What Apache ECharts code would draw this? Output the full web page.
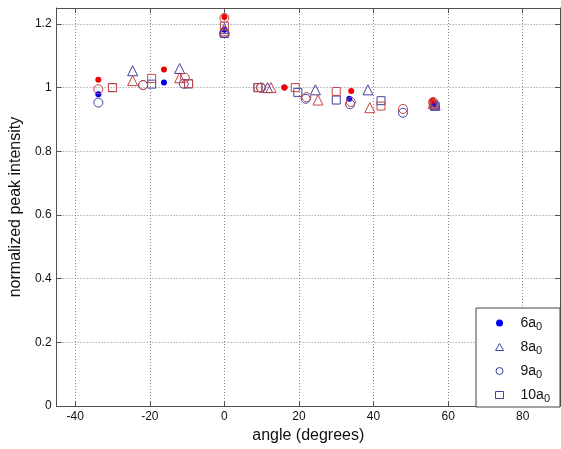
<!DOCTYPE html>
<html><head><meta charset="utf-8">
<script src="https://cdn.jsdelivr.net/npm/echarts@6/dist/echarts.min.js"></script>
<style>html,body{margin:0;padding:0;background:#fff}#c{width:561px;height:449px}</style>
</head><body><div id="c"></div>
<script>
// data: [angle, normalized peak intensity]
const blue6 = [[-33.8,0.979],[-16.2,1.016],[0,1.182],[16.1,1.0],[33.5,0.965],[56.3,0.946]];
const red6  = [[-33.8,1.025],[-16.2,1.057],[0,1.222],[16.1,1.0],[34.0,0.989],[55.9,0.959]];
const blue8 = [[-24.6,1.053],[-12.0,1.060],[0,1.185],[11.6,1.0],[24.4,0.993],[38.5,0.993],[56.5,0.945]];
const red8  = [[-24.6,1.022],[-12.0,1.031],[0,1.178],[12.5,1.0],[25.1,0.961],[39.0,0.937],[56.0,0.950]];
const blue9 = [[-33.8,0.953],[-21.8,1.008],[-10.9,1.012],[0,1.172],[9.8,1.0],[21.8,0.965],[33.7,0.948],[47.9,0.921],[56.5,0.943]];
const red9  = [[-33.8,0.995],[-21.8,1.008],[-10.6,1.031],[0,1.219],[9.8,1.0],[22.0,0.970],[33.9,0.955],[47.9,0.933],[56.0,0.955]];
const blue10 = [[-30.0,1.0],[-19.5,1.011],[-9.6,1.012],[0,1.170],[9.0,1.0],[19.7,0.985],[30.0,0.961],[42.0,0.959],[56.5,0.942]];
const red10  = [[-30.0,1.0],[-19.5,1.029],[-9.6,1.012],[0,1.193],[9.0,1.0],[19.0,1.0],[30.0,0.988],[42.0,0.942],[56.0,0.948]];
const legendNames = ['6a0','8a0','9a0','10a0'];
const xTicks = [-40,-20,0,20,40,60,80];

const BLUE='#0000f0', RED='#f00000', OBLUE='#4040a8', ORED='#c44444';
function openS(name, data, sym, size, col){
  return {type:'scatter', name, data, symbol:sym, symbolSize:size,
    itemStyle:{color:'rgba(255,255,255,0)', borderColor:col, borderWidth:1, opacity:1}};
}
function fillS(name, data, col){
  return {type:'scatter', name, data, symbol:'circle', symbolSize:6, itemStyle:{color:col, opacity:1}};
}
const font='"Liberation Sans", Arial, sans-serif';
const AX='#505050';
const dotted={type:[1,2], color:'#8a8a8a', width:1};
const chart = echarts.init(document.getElementById('c'));
chart.setOption({
  animation:false,
  backgroundColor:'#fff',
  textStyle:{fontFamily:font},
  grid:{left:53, right:1, top:8, bottom:39},
  xAxis:[{type:'value', min:-45, max:90,
    axisLine:{onZero:false, lineStyle:{color:AX}},
    axisTick:{inside:true, length:5, lineStyle:{color:AX}, customValues:xTicks},
    axisLabel:{color:'#111', fontSize:12, margin:5, fontFamily:font, customValues:xTicks},
    splitLine:{show:true, lineStyle:dotted, customValues:xTicks},
    name:'angle (degrees)', nameLocation:'middle', nameGap:19,
    nameTextStyle:{fontSize:16, color:'#111', fontFamily:font}},
   {type:'value', position:'top', min:-45, max:90,
    axisLine:{onZero:false, lineStyle:{color:AX}},
    axisTick:{inside:true, length:5, lineStyle:{color:AX}, customValues:xTicks},
    axisLabel:{show:false}, splitLine:{show:false}}],
  yAxis:[{type:'value', min:0, max:1.25, interval:0.2,
    axisLine:{onZero:false, lineStyle:{color:AX}},
    axisTick:{inside:true, length:5, lineStyle:{color:AX}},
    axisLabel:{color:'#111', fontSize:12, margin:5, fontFamily:font, showMaxLabel:false,
      formatter:v=>(Math.round(v*10)/10).toString()},
    splitLine:{show:true, lineStyle:dotted},
    name:'normalized peak intensity', nameLocation:'middle', nameGap:30,
    nameTextStyle:{fontSize:16, color:'#111', fontFamily:font}},
   {type:'value', position:'right', min:0, max:1.25, interval:0.2,
    axisLine:{onZero:false, lineStyle:{color:AX}},
    axisTick:{inside:true, length:5, lineStyle:{color:AX}},
    axisLabel:{show:false}, splitLine:{show:false}}],
  legend:{data:legendNames, orient:'vertical', right:1, bottom:42,
    backgroundColor:'#fff', borderColor:'#444', borderWidth:1,
    padding:[4,10,3,19], itemGap:4, itemWidth:8, itemHeight:7,
    itemStyle:{borderWidth:1},
    textStyle:{fontSize:14, color:'#111', fontFamily:font, padding:[0,0,0,12], lineHeight:18,
      rich:{s:{fontSize:11, verticalAlign:'bottom', padding:[9,0,0,0], fontFamily:font, color:'#111', lineHeight:18}}},
    formatter:n=>n.replace(/a0$/, 'a{s|0}')},
  series:[
    fillS('6a0', blue6, BLUE),
    openS('8a0', blue8, 'triangle', 10, OBLUE),
    openS('9a0', blue9, 'circle', 9, OBLUE),
    openS('10a0', blue10, 'rect', 8, OBLUE),
    fillS('6a0 r', red6, RED),
    openS('8a0 r', red8, 'triangle', 10, ORED),
    openS('9a0 r', red9, 'circle', 9, ORED),
    openS('10a0 r', red10, 'rect', 8, ORED)
  ]
});
</script></body></html>
